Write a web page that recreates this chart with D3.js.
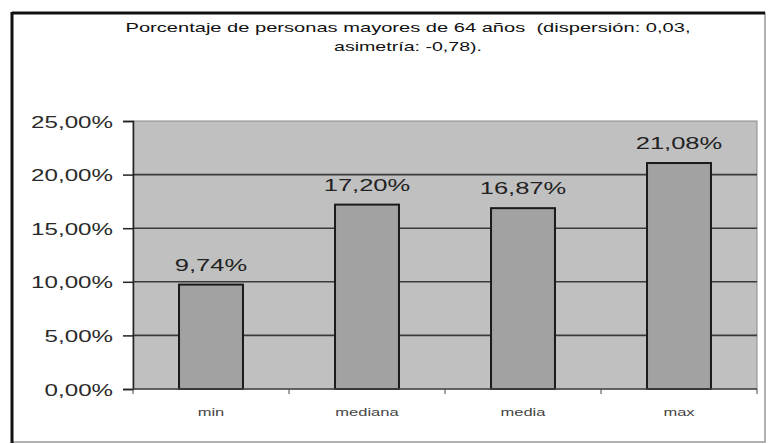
<!DOCTYPE html>
<html><head><meta charset="utf-8">
<script src="https://cdn.jsdelivr.net/npm/d3@7"></script>
<style>body{margin:0;background:#fff;} svg{display:block;} text{font-family:"Liberation Sans",Arial,sans-serif;}</style>
</head><body>
<svg id="c" width="769" height="444"></svg>
<script>
const categories = ["min", "mediana", "media", "max"];
const values = [0.0974, 0.1720, 0.1687, 0.2108];
const valueLabels = ["9,74%", "17,20%", "16,87%", "21,08%"];
const yTicks = [0, 0.05, 0.10, 0.15, 0.20, 0.25];
const titleLines = ["Porcentaje de personas mayores de 64 años  (dispersión: 0,03,", "asimetría: -0,78)."];

const svg = d3.select("#c");
const W = 769, H = 444;
const M = {left: 133, right: 757, top: 121, bottom: 389};

const loc = d3.formatLocale({decimal: ",", thousands: ".", grouping: [3], currency: ["", "€"]});
const fmt = loc.format(".2%");

function stretch(sel, f) {
  sel.each(function() {
    const l = this.getComputedTextLength();
    d3.select(this).attr("textLength", l * f).attr("lengthAdjust", "spacingAndGlyphs");
  });
}

// outer frame
svg.append("rect").attr("x", 12).attr("y", 13).attr("width", 753).attr("height", 429)
  .attr("fill", "#fff").attr("stroke", "#999").attr("stroke-width", 1.5);
svg.append("line").attr("x1", 12).attr("x2", 765).attr("y1", 13).attr("y2", 13).attr("stroke", "#111").attr("stroke-width", 3);
svg.append("line").attr("x1", 12).attr("x2", 12).attr("y1", 12).attr("y2", 443).attr("stroke", "#111").attr("stroke-width", 3);

const x = d3.scaleBand().domain(categories).range([M.left, M.right]).paddingInner(0.59).paddingOuter(0.295);
const y = d3.scaleLinear().domain([0, 0.25]).range([M.bottom, M.top]);

// plot area
svg.append("rect").attr("x", M.left).attr("y", M.top).attr("width", M.right - M.left).attr("height", M.bottom - M.top)
  .attr("fill", "#c0c0c0").attr("stroke", "#8a8a8a").attr("stroke-width", 1);

// gridlines
svg.append("g").selectAll("line").data(yTicks.filter(d => d > 0 && d < 0.25)).join("line")
  .attr("x1", M.left).attr("x2", M.right).attr("y1", d => y(d)).attr("y2", d => y(d))
  .attr("stroke", "#3a3a3a").attr("stroke-width", 1.6);

// bars
svg.append("g").selectAll("rect").data(values).join("rect")
  .attr("x", (d, i) => x(categories[i])).attr("width", x.bandwidth())
  .attr("y", d => y(d)).attr("height", d => y(0) - y(d))
  .attr("fill", "#a2a2a2").attr("stroke", "#1a1a1a").attr("stroke-width", 2);

// y axis
const yAxis = d3.axisLeft(y).tickValues(yTicks).tickFormat(fmt).tickSize(10).tickPadding(10);
const gy = svg.append("g").attr("transform", `translate(${M.left},0)`).call(yAxis);
gy.select(".domain").attr("stroke", "#222").attr("stroke-width", 1.5);
gy.selectAll(".tick line").attr("stroke", "#222").attr("stroke-width", 1.5);
gy.selectAll(".tick text").attr("font-size", 17).attr("fill", "#2a2a2a").attr("dy", "0.36em")
  .style("font-family", '"Liberation Sans",Arial,sans-serif');
stretch(gy.selectAll(".tick text"), 1.42);

// x axis
const gx = svg.append("g").attr("transform", `translate(0,${M.bottom})`);
gx.append("line").attr("x1", M.left).attr("x2", M.right).attr("stroke", "#444").attr("stroke-width", 1.5);
const bounds = [0, 1, 2, 3, 4].map(i => M.left + i * x.step());
gx.selectAll(".tk").data(bounds).join("line").attr("class", "tk")
  .attr("x1", d => d).attr("x2", d => d).attr("y1", 0).attr("y2", 5).attr("stroke", "#444");
const xl = gx.selectAll(".xl").data(categories).join("text").attr("class", "xl")
  .attr("x", d => x(d) + x.bandwidth() / 2).attr("y", 27)
  .attr("text-anchor", "middle").attr("font-size", 11).attr("fill", "#444").text(d => d);
stretch(xl, 1.5);

// data labels
const dl = svg.append("g").selectAll("text").data(values).join("text")
  .attr("x", (d, i) => x(categories[i]) + x.bandwidth() / 2).attr("y", d => y(d) - 14)
  .attr("text-anchor", "middle").attr("font-size", 17).attr("fill", "#222")
  .text((d, i) => valueLabels[i]);
stretch(dl, 1.5);

// title
const tt = svg.append("g").selectAll("text").data(titleLines).join("text")
  .attr("x", 408).attr("y", (d, i) => 32 + i * 19).attr("text-anchor", "middle")
  .attr("font-size", 13).attr("fill", "#111").style("white-space", "pre").text(d => d);
tt.each(function(d, i) {
  const target = i === 0 ? 565 : 148;
  d3.select(this).attr("textLength", target).attr("lengthAdjust", "spacingAndGlyphs");
});
</script>
</body></html>
